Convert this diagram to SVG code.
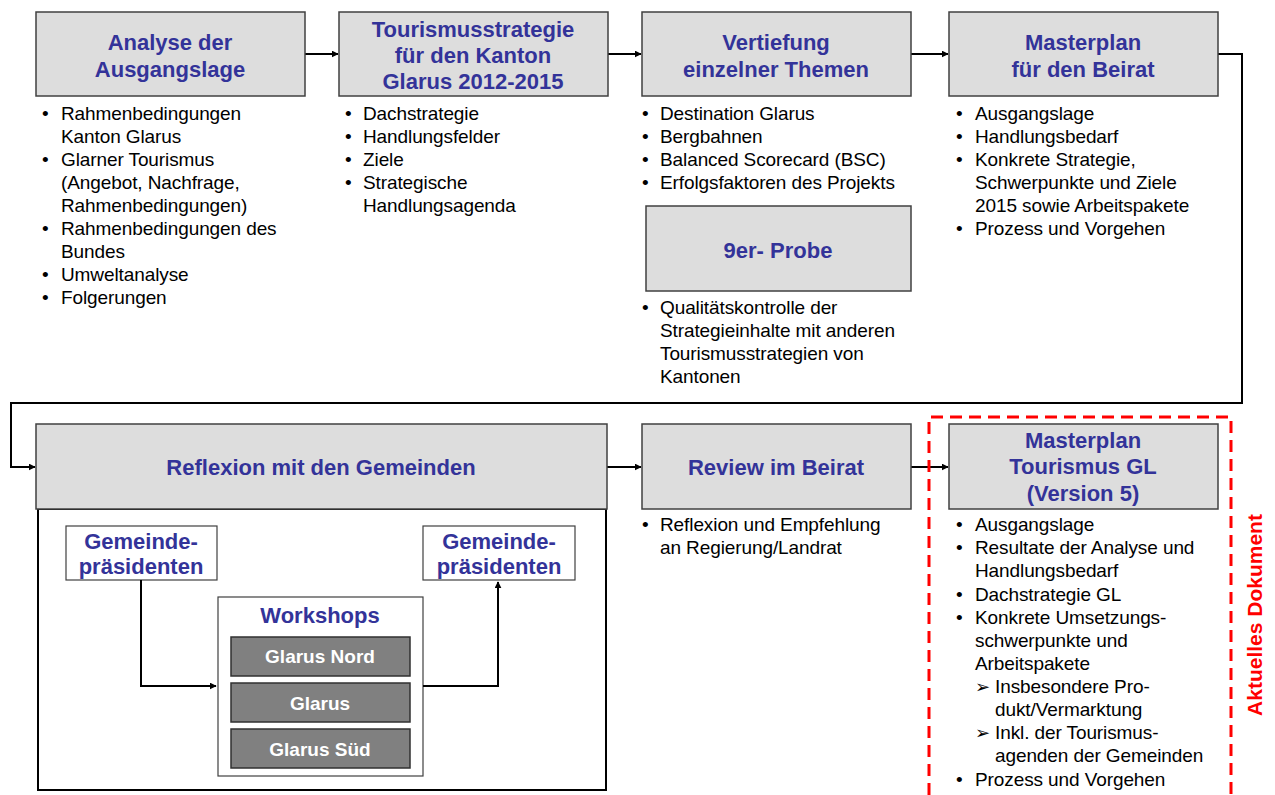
<svg xmlns="http://www.w3.org/2000/svg" width="1275" height="795" viewBox="0 0 1275 795">
  <defs>
    <marker id="arr" viewBox="0 0 10 10" refX="9" refY="5" markerWidth="7" markerHeight="7" orient="auto" markerUnits="userSpaceOnUse">
      <path d="M0,0 L10,5 L0,10 z" fill="#000"/>
    </marker>
    <style>
      .box { fill: #dddddd; stroke: #404040; stroke-width: 1.5; }
      .ttl { font-family: "Liberation Sans", Arial, sans-serif; font-weight: bold; font-size: 22px; fill: #333399; text-anchor: middle; }
      .txt { font-family: "Liberation Sans", Arial, sans-serif; font-size: 19px; fill: #000; letter-spacing: -0.1px; }
      .con { fill: none; stroke: #000; stroke-width: 2; }
      .wbox { fill: #fff; stroke: #404040; stroke-width: 1.2; }
      .gbox { fill: #808080; stroke: #303030; stroke-width: 1.5; }
      .wtxt { font-family: "Liberation Sans", Arial, sans-serif; font-weight: bold; font-size: 19px; fill: #fff; text-anchor: middle; }
      .sub { font-family: "DejaVu Sans", sans-serif; font-size: 18px; }
    </style>
  </defs>

  <!-- connectors -->
  <g id="connectors">
    <line class="con" x1="305" y1="54" x2="338" y2="54" marker-end="url(#arr)"/>
    <line class="con" x1="608" y1="54" x2="641" y2="54" marker-end="url(#arr)"/>
    <line class="con" x1="911" y1="54" x2="948" y2="54" marker-end="url(#arr)"/>
    <polyline class="con" points="1218,54 1242,54 1242,403 11,403 11,467 35,467" marker-end="url(#arr)"/>
    <line class="con" x1="607" y1="467" x2="641" y2="467" marker-end="url(#arr)"/>
    <line class="con" x1="911" y1="467" x2="948" y2="467" marker-end="url(#arr)"/>
  </g>

  <!-- Analyse der Ausgangslage -->
  <g id="analyse">
    <rect class="box" x="36" y="12" width="269" height="84"/>
    <text class="ttl" x="170" y="50">Analyse der</text>
    <text class="ttl" x="170" y="77">Ausgangslage</text>
    <g class="txt">
      <text x="42" y="120">•</text><text x="61" y="120">Rahmenbedingungen</text>
      <text x="61" y="143">Kanton Glarus</text>
      <text x="42" y="166">•</text><text x="61" y="166">Glarner Tourismus</text>
      <text x="61" y="189">(Angebot, Nachfrage,</text>
      <text x="61" y="212">Rahmenbedingungen)</text>
      <text x="42" y="235">•</text><text x="61" y="235">Rahmenbedingungen des</text>
      <text x="61" y="258">Bundes</text>
      <text x="42" y="281">•</text><text x="61" y="281">Umweltanalyse</text>
      <text x="42" y="304">•</text><text x="61" y="304">Folgerungen</text>
    </g>
  </g>

  <!-- Tourismusstrategie -->
  <g id="strategie">
    <rect class="box" x="339" y="12" width="269" height="84"/>
    <text class="ttl" x="473" y="37">Tourismusstrategie</text>
    <text class="ttl" x="473" y="63">für den Kanton</text>
    <text class="ttl" x="473" y="89">Glarus 2012-2015</text>
    <g class="txt">
      <text x="345" y="120">•</text><text x="363" y="120">Dachstrategie</text>
      <text x="345" y="143">•</text><text x="363" y="143">Handlungsfelder</text>
      <text x="345" y="166">•</text><text x="363" y="166">Ziele</text>
      <text x="345" y="189">•</text><text x="363" y="189">Strategische</text>
      <text x="363" y="212">Handlungsagenda</text>
    </g>
  </g>

  <!-- Vertiefung einzelner Themen -->
  <g id="vertiefung">
    <rect class="box" x="642" y="12" width="269" height="84"/>
    <text class="ttl" x="776" y="50">Vertiefung</text>
    <text class="ttl" x="776" y="77">einzelner Themen</text>
    <g class="txt">
      <text x="642" y="120">•</text><text x="660" y="120">Destination Glarus</text>
      <text x="642" y="143">•</text><text x="660" y="143">Bergbahnen</text>
      <text x="642" y="166">•</text><text x="660" y="166">Balanced Scorecard (BSC)</text>
      <text x="642" y="189">•</text><text x="660" y="189">Erfolgsfaktoren des Projekts</text>
    </g>
  </g>

  <!-- 9er-Probe -->
  <g id="probe">
    <rect class="box" x="646" y="206" width="265" height="85"/>
    <text class="ttl" x="778" y="258">9er- Probe</text>
    <g class="txt">
      <text x="642" y="314">•</text><text x="660" y="314">Qualitätskontrolle der</text>
      <text x="660" y="337">Strategieinhalte mit anderen</text>
      <text x="660" y="360">Tourismusstrategien von</text>
      <text x="660" y="383">Kantonen</text>
    </g>
  </g>

  <!-- Masterplan für den Beirat -->
  <g id="masterplan-beirat">
    <rect class="box" x="949" y="12" width="269" height="84"/>
    <text class="ttl" x="1083" y="50">Masterplan</text>
    <text class="ttl" x="1083" y="77">für den Beirat</text>
    <g class="txt">
      <text x="956" y="120">•</text><text x="975" y="120">Ausgangslage</text>
      <text x="956" y="143">•</text><text x="975" y="143">Handlungsbedarf</text>
      <text x="956" y="166">•</text><text x="975" y="166">Konkrete Strategie,</text>
      <text x="975" y="189">Schwerpunkte und Ziele</text>
      <text x="975" y="212">2015 sowie Arbeitspakete</text>
      <text x="956" y="235">•</text><text x="975" y="235">Prozess und Vorgehen</text>
    </g>
  </g>

  <!-- Reflexion mit den Gemeinden -->
  <g id="reflexion">
    <rect x="38" y="509" width="568" height="281" fill="#fff" stroke="#000" stroke-width="2"/>
    <rect class="box" x="36" y="424" width="571" height="85"/>
    <text class="ttl" x="321" y="475">Reflexion mit den Gemeinden</text>

    <rect class="wbox" x="66" y="526" width="151" height="54"/>
    <text class="ttl" x="141" y="549">Gemeinde-</text>
    <text class="ttl" x="141" y="574">präsidenten</text>

    <rect class="wbox" x="423" y="526" width="152" height="54"/>
    <text class="ttl" x="499" y="549">Gemeinde-</text>
    <text class="ttl" x="499" y="574">präsidenten</text>

    <rect class="wbox" x="218" y="597" width="205" height="179"/>
    <text class="ttl" x="320" y="623">Workshops</text>
    <rect class="gbox" x="231" y="637" width="179" height="39"/>
    <text class="wtxt" x="320" y="663">Glarus Nord</text>
    <rect class="gbox" x="231" y="683" width="179" height="39"/>
    <text class="wtxt" x="320" y="710">Glarus</text>
    <rect class="gbox" x="231" y="729" width="179" height="39"/>
    <text class="wtxt" x="320" y="756">Glarus Süd</text>

    <polyline class="con" points="141,580 141,686 216,686" marker-end="url(#arr)" stroke-width="1.6"/>
    <polyline class="con" points="423,686 498,686 498,582" marker-end="url(#arr)" stroke-width="1.6"/>
  </g>

  <!-- Review im Beirat -->
  <g id="review">
    <rect class="box" x="642" y="424" width="269" height="85"/>
    <text class="ttl" x="776" y="475">Review im Beirat</text>
    <g class="txt">
      <text x="642" y="531">•</text><text x="660" y="531">Reflexion und Empfehlung</text>
      <text x="660" y="554">an Regierung/Landrat</text>
    </g>
  </g>

  <!-- Masterplan Tourismus GL (current document) -->
  <g id="masterplan-gl">
    <path d="M929,795 L929,417 L1231,417 L1231,795" fill="none" stroke="#ff0000" stroke-width="3" stroke-dasharray="12,7"/>
    <text x="1262" y="615" transform="rotate(-90 1262 615)" font-family="Liberation Sans, Arial, sans-serif" font-weight="bold" font-size="21" fill="#ff0000" text-anchor="middle">Aktuelles Dokument</text>
    <rect class="box" x="949" y="424" width="269" height="85"/>
    <text class="ttl" x="1083" y="448">Masterplan</text>
    <text class="ttl" x="1083" y="474">Tourismus GL</text>
    <text class="ttl" x="1083" y="501">(Version 5)</text>
    <g class="txt">
      <text x="956" y="531">•</text><text x="975" y="531">Ausgangslage</text>
      <text x="956" y="554">•</text><text x="975" y="554">Resultate der Analyse und</text>
      <text x="975" y="577">Handlungsbedarf</text>
      <text x="956" y="601">•</text><text x="975" y="601">Dachstrategie GL</text>
      <text x="956" y="624">•</text><text x="975" y="624">Konkrete Umsetzungs-</text>
      <text x="975" y="647">schwerpunkte und</text>
      <text x="975" y="670">Arbeitspakete</text>
      <text class="sub" x="975" y="693">➢</text><text x="995" y="693">Insbesondere Pro-</text>
      <text x="995" y="716">dukt/Vermarktung</text>
      <text class="sub" x="975" y="739">➢</text><text x="995" y="739">Inkl. der Tourismus-</text>
      <text x="995" y="762">agenden der Gemeinden</text>
      <text x="956" y="786">•</text><text x="975" y="786">Prozess und Vorgehen</text>
    </g>
  </g>
</svg>
